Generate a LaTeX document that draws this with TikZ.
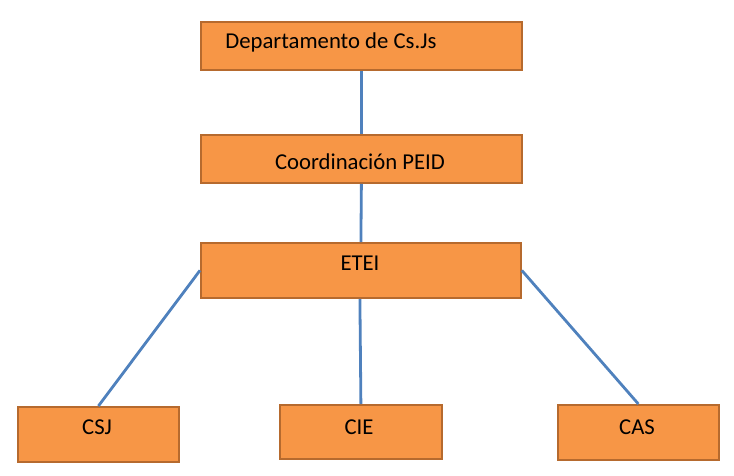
\documentclass[tikz,border=0pt]{standalone}
\usepackage{fontspec}
\setmainfont{Carlito}
\definecolor{boxfill}{HTML}{F79646}
\definecolor{boxedge}{HTML}{B66A2E}
\definecolor{linkblue}{HTML}{4F81BD}
\begin{document}
\begin{tikzpicture}[x=1pt,y=-1pt,
  box/.style={draw=boxedge,fill=boxfill,line width=1.8pt,rectangle,inner sep=0pt,anchor=north west},
  txt/.style={font=\fontsize{22.7}{26}\selectfont,inner sep=0pt,text=black},
  link/.style={draw=linkblue,line width=2.8pt}]
\useasboundingbox (0,0) rectangle (734,475);
% connectors (behind boxes)
\node[box,minimum width=321pt,minimum height=48pt] (dep) at (200,21) {};
\node[box,minimum width=321pt,minimum height=48pt] (coord) at (200,134) {};
\node[box,minimum width=320pt,minimum height=55pt] (etei) at (200,242) {};
\node[box,minimum width=161pt,minimum height=55pt] (csj) at (17,406) {};
\node[box,minimum width=162pt,minimum height=54pt] (cie) at (279,404) {};
\node[box,minimum width=161pt,minimum height=55pt] (cas) at (557,404) {};
% texts
\node[txt] (tdep) at (331,42) {Departamento de Cs.Js};
\node[txt] (tcoord) at (360,162) {Coordinación PEID};
\node[txt] (tetei) at (360,263) {ETEI};
\node[txt] (tcsj) at (97,427) {CSJ};
\node[txt] (tcie) at (359,427) {CIE};
\node[txt] (tcas) at (637,427) {CAS};
% connectors
\draw[link] (dep.south) -- (coord.north);
\draw[link] (coord.south) -- (etei.north);
\draw[link] (etei.west) -- (csj.north);
\draw[link] ([xshift=-1pt]etei.south) -- (cie.north);
\draw[link] (etei.east) -- (cas.north);
\end{tikzpicture}
\end{document}
